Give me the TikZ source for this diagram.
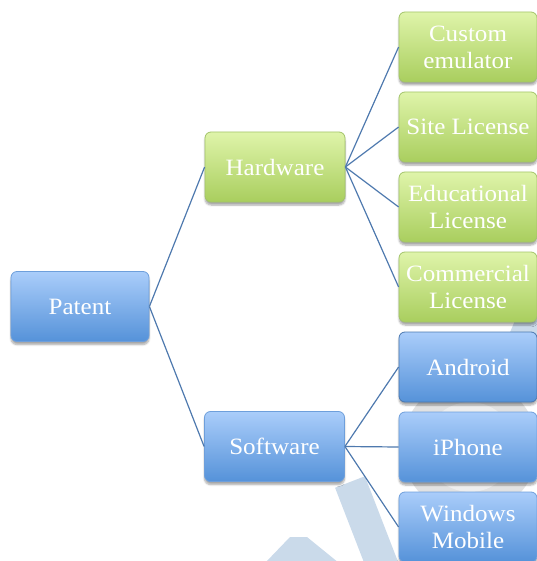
\documentclass[tikz,border=0pt]{standalone}
\usepackage{fontspec}
\setmainfont{Liberation Serif}[FakeStretch=1.07]
\usetikzlibrary{shadows.blur}
\definecolor{gtop}{HTML}{DFF4AA}
\definecolor{gbot}{HTML}{A9CE5E}
\definecolor{gbrd}{HTML}{A3C46A}
\definecolor{btop}{HTML}{AACDFA}
\definecolor{bbot}{HTML}{5592D9}
\definecolor{bbrd}{HTML}{6E9FDB}
\definecolor{bbrddark}{HTML}{4A78B0}
\definecolor{conn}{HTML}{4E79AE}
\definecolor{wmblue}{HTML}{CADAEA}
\definecolor{wmgray}{HTML}{E2E2E2}
\definecolor{wmgraylt}{HTML}{EEEEEE}
\tikzset{
  box/.style={rounded corners=6bp, minimum height=70bp, text=white, align=center,
    font=\fontsize{23.5}{27}\selectfont, inner sep=2bp, line width=0.8bp,
    blur shadow={shadow xshift=0bp, shadow yshift=-3bp, shadow blur steps=6, shadow opacity=35}},
  gbox/.style={box, draw=gbrd, top color=gtop, bottom color=gbot},
  bbox/.style={box, draw=bbrd, top color=btop, bottom color=bbot},
  link/.style={draw=conn, line width=1.2bp},
  wm/.style={line width=32bp, draw=wmblue}
}
\begin{document}
\begin{tikzpicture}[x=1bp,y=-1bp]
\useasboundingbox (0,0) rectangle (537,561);
\begin{scope}
\clip (0,0) rectangle (537,561);
% faint watermark
\fill[wmgray] (470,447) circle (68bp);
\fill[wmgraylt] (470,447) circle (45bp);
\draw[wm] (350,482) -- (386,575);
\fill[wmblue] (265,563) -- (290,537) -- (307,537) -- (339,563) -- cycle;
\draw[wm] (520,350) -- (545,290);
% nodes
\node[bbox, minimum width=138bp] (patent) at (80,306.5) {Patent};
\node[gbox, minimum width=140bp] (hw) at (275,167) {Hardware};
\node[bbox, minimum width=140bp] (sw) at (274.5,446.5) {Software};
\node[gbox, minimum width=138bp] (c1) at (468,47) {Custom\\emulator};
\node[gbox, minimum width=138bp] (c2) at (468,127) {Site License};
\node[gbox, minimum width=138bp] (c3) at (468,207) {Educational\\License};
\node[gbox, minimum width=138bp] (c4) at (468,287) {Commercial\\License};
\node[bbox, minimum width=138bp, draw=bbrddark] (c5) at (468,367) {Android};
\node[bbox, minimum width=138bp] (c6) at (468,447) {iPhone};
\node[bbox, minimum width=138bp] (c7) at (468,527) {Windows\\Mobile};
% connectors
\draw[link] (patent.east) -- (hw.west);
\draw[link] (patent.east) -- (sw.west);
\foreach \c in {c1,c2,c3,c4} \draw[link] (hw.east) -- (\c.west);
\foreach \c in {c5,c6,c7} \draw[link] (sw.east) -- (\c.west);
\end{scope}
\end{tikzpicture}
\end{document}
